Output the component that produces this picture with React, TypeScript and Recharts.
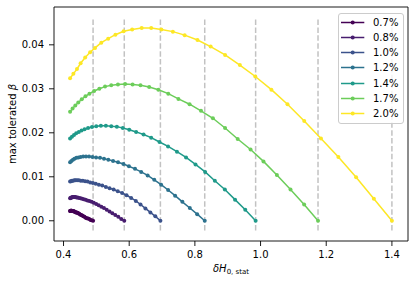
import React from 'react';
import { LineChart, Line, XAxis, YAxis, ReferenceArea, Legend } from 'recharts';

const seriesLabels = ['0.7%', '0.8%', '1.0%', '1.2%', '1.4%', '1.7%', '2.0%'];
const seriesColors = ['#440154', '#481d6f', '#3b528b', '#2c728e', '#1f9a8a', '#6ccd5a', '#fde725'];
const endpoints = [0.49, 0.585, 0.695, 0.83, 0.985, 1.175, 1.4];
const xTicks = [0.4, 0.6, 0.8, 1.0, 1.2, 1.4];
const yTicks = [0, 0.01, 0.02, 0.03, 0.04];

const xs07 = [0.42, 0.4207, 0.4215, 0.4223, 0.4233, 0.4243, 0.4255, 0.4268, 0.4283, 0.4299, 0.4316, 0.4335, 0.4355, 0.4376, 0.4399, 0.4423, 0.4449, 0.4477, 0.4506, 0.4537, 0.457, 0.4603, 0.4638, 0.4673, 0.471, 0.4746, 0.4784, 0.4822, 0.4861, 0.49];
const ys07 = [0.0022, 0.0022, 0.0023, 0.0023, 0.0023, 0.0023, 0.0023, 0.0022, 0.0022, 0.0022, 0.0021, 0.0021, 0.002, 0.0019, 0.0019, 0.0018, 0.0017, 0.0016, 0.0014, 0.0013, 0.0012, 0.001, 0.0009, 0.0007, 0.0006, 0.0005, 0.0004, 0.0002, 0.0001, 0.0];

const xs08 = [0.42, 0.4217, 0.4235, 0.4254, 0.4278, 0.4302, 0.4329, 0.436, 0.4395, 0.4433, 0.4474, 0.4518, 0.4566, 0.4616, 0.4669, 0.4726, 0.4787, 0.4853, 0.4921, 0.4995, 0.5071, 0.515, 0.5231, 0.5315, 0.5401, 0.5487, 0.5576, 0.5667, 0.5758, 0.585];
const ys08 = [0.0051, 0.0052, 0.0053, 0.0053, 0.0054, 0.0054, 0.0054, 0.0054, 0.0053, 0.0053, 0.0052, 0.0051, 0.005, 0.0049, 0.0048, 0.0046, 0.0045, 0.0043, 0.0041, 0.0038, 0.0035, 0.0032, 0.0029, 0.0025, 0.0021, 0.0017, 0.0013, 0.0009, 0.0004, 0.0];

const xs10 = [0.42, 0.4228, 0.4258, 0.4291, 0.4329, 0.4371, 0.4415, 0.4467, 0.4525, 0.4588, 0.4657, 0.4731, 0.4811, 0.4893, 0.4981, 0.5077, 0.5179, 0.5289, 0.5402, 0.5526, 0.5652, 0.5784, 0.5919, 0.6059, 0.6202, 0.6345, 0.6494, 0.6645, 0.6796, 0.695];
const ys10 = [0.0089, 0.009, 0.0091, 0.0091, 0.0092, 0.0092, 0.0092, 0.0092, 0.0091, 0.0091, 0.009, 0.0089, 0.0087, 0.0086, 0.0084, 0.0082, 0.008, 0.0077, 0.0074, 0.0071, 0.0067, 0.0063, 0.0058, 0.0052, 0.0045, 0.0037, 0.0028, 0.0019, 0.001, 0.0];

const xs12 = [0.42, 0.4241, 0.4286, 0.4335, 0.4393, 0.4454, 0.452, 0.4598, 0.4684, 0.4778, 0.4881, 0.4991, 0.511, 0.5233, 0.5364, 0.5508, 0.566, 0.5824, 0.5992, 0.6176, 0.6365, 0.6562, 0.6763, 0.6972, 0.7185, 0.7398, 0.7619, 0.7845, 0.807, 0.83];
const ys12 = [0.0133, 0.0136, 0.0139, 0.0141, 0.0143, 0.0144, 0.0145, 0.0146, 0.0146, 0.0146, 0.0145, 0.0144, 0.0143, 0.0141, 0.0139, 0.0136, 0.0133, 0.0129, 0.0124, 0.0118, 0.0111, 0.0103, 0.0093, 0.0082, 0.007, 0.0057, 0.0043, 0.0029, 0.0015, 0.0];

const xs14 = [0.42, 0.4257, 0.4319, 0.4386, 0.4466, 0.455, 0.4641, 0.4748, 0.4867, 0.4997, 0.5138, 0.529, 0.5454, 0.5624, 0.5805, 0.6002, 0.6211, 0.6437, 0.6669, 0.6923, 0.7183, 0.7454, 0.7731, 0.8019, 0.8313, 0.8607, 0.8912, 0.9223, 0.9534, 0.985];
const ys14 = [0.0187, 0.0191, 0.0195, 0.0199, 0.0202, 0.0205, 0.0208, 0.0211, 0.0213, 0.0215, 0.0216, 0.0216, 0.0215, 0.0214, 0.0211, 0.0207, 0.0202, 0.0196, 0.0189, 0.0179, 0.0169, 0.0157, 0.0144, 0.0128, 0.0111, 0.0091, 0.0071, 0.0048, 0.0025, 0.0];

const xs17 = [0.42, 0.4276, 0.4359, 0.4449, 0.4555, 0.4668, 0.4789, 0.4932, 0.5091, 0.5265, 0.5453, 0.5657, 0.5876, 0.6103, 0.6344, 0.6608, 0.6888, 0.719, 0.7499, 0.7839, 0.8186, 0.8549, 0.8919, 0.9304, 0.9696, 1.0089, 1.0497, 1.0912, 1.1327, 1.175];
const ys17 = [0.0248, 0.0255, 0.0262, 0.0269, 0.0276, 0.0283, 0.0289, 0.0295, 0.03, 0.0305, 0.0308, 0.031, 0.0311, 0.031, 0.0308, 0.0304, 0.0298, 0.0289, 0.0277, 0.0265, 0.025, 0.0233, 0.0211, 0.0186, 0.0162, 0.0135, 0.0104, 0.0071, 0.0037, 0.0];

const xs20 = [0.42, 0.43, 0.441, 0.452, 0.466, 0.481, 0.496, 0.515, 0.536, 0.558, 0.583, 0.609, 0.638, 0.667, 0.698, 0.733, 0.769, 0.808, 0.848, 0.892, 0.937, 0.984, 1.033, 1.082, 1.133, 1.184, 1.237, 1.291, 1.345, 1.4];
const ys20 = [0.0324, 0.0334, 0.0345, 0.0358, 0.0371, 0.0383, 0.0393, 0.0405, 0.0414, 0.0423, 0.0431, 0.0435, 0.0438, 0.0438, 0.0435, 0.043, 0.0422, 0.0411, 0.0396, 0.0377, 0.0354, 0.0328, 0.0298, 0.0265, 0.0227, 0.0187, 0.0145, 0.0099, 0.005, 0.0];

const vlineBottom = -0.0022;
const vlineTop = 0.0462;

const allX = [xs07, xs08, xs10, xs12, xs14, xs17, xs20];
const allY = [ys07, ys08, ys10, ys12, ys14, ys17, ys20];

const series = seriesLabels.map((name, i) => ({
  name,
  color: seriesColors[i],
  data: allX[i].map((x, j) => ({ x, y: allY[i][j] })),
}));

const vlines = endpoints.map((e) => [
  { x: e, y: vlineBottom },
  { x: e, y: vlineTop },
]);

const FONT = 'DejaVu Sans, sans-serif';
const X_DOMAIN: [number, number] = [0.371, 1.449];
const Y_DOMAIN: [number, number] = [-0.0046, 0.0486];

const renderLegend = () => (
  <div
    style={{
      position: 'relative',
      width: 66,
      height: 111,
      boxSizing: 'border-box',
      border: '1px solid #cccccc',
      borderRadius: 3,
      background: 'rgba(255,255,255,0.8)',
      fontFamily: FONT,
      fontSize: 10,
      color: '#000',
    }}
  >
    {seriesLabels.map((lab, i) => (
      <div
        key={lab}
        style={{
          position: 'absolute',
          left: 0,
          top: 0.5 + i * 15.33,
          height: 15,
          display: 'flex',
          alignItems: 'center',
          whiteSpace: 'nowrap',
        }}
      >
        <svg width={34} height={15} style={{ display: 'block' }}>
          <line x1={2} y1={7.5} x2={25.3} y2={7.5} stroke={seriesColors[i]} strokeWidth={1.5} />
          <circle cx={13.7} cy={7.5} r={2} fill={seriesColors[i]} />
        </svg>
        <span style={{ lineHeight: '15px' }}>{lab}</span>
      </div>
    ))}
  </div>
);

const XLabel = () => (
  <text x={231} y={271.5} textAnchor="middle" fontFamily={FONT} fontSize={10} fill="#000">
    <tspan fontStyle="italic">δH</tspan>
    <tspan fontSize={7} dy={2.3}>0, stat</tspan>
  </text>
);

const YLabel = () => (
  <text
    x={12}
    y={124}
    transform="rotate(-90 12 124)"
    textAnchor="middle"
    dominantBaseline="central"
    fontFamily={FONT}
    fontSize={10}
    fill="#000"
  >
    max tolerated <tspan fontStyle="italic">β</tspan>
  </text>
);

export default function App() {
  return (
    <div style={{ position: 'absolute', left: 0, top: 0, background: '#fff' }}>
      <LineChart width={416} height={283} margin={{ top: 7, right: 8, bottom: 12, left: 0 }}>
        <XAxis
          type="number"
          dataKey="x"
          domain={X_DOMAIN}
          ticks={xTicks}
          allowDataOverflow
          height={30}
          tickFormatter={(v: number) => v.toFixed(1)}
          tick={{ fill: '#000', fontSize: 10, fontFamily: FONT }}
          tickLine={{ stroke: '#000', strokeWidth: 0.9 }}
          tickSize={5}
          tickMargin={5}
          axisLine={false}
          label={{ content: () => <XLabel /> }}
        />
        <YAxis
          type="number"
          dataKey="y"
          domain={Y_DOMAIN}
          ticks={yTicks}
          allowDataOverflow
          width={54}
          tickFormatter={(v: number) => v.toFixed(2)}
          tick={{ fill: '#000', fontSize: 10, fontFamily: FONT }}
          tickLine={{ stroke: '#000', strokeWidth: 0.9 }}
          tickSize={5}
          tickMargin={5}
          axisLine={false}
          label={{ content: () => <YLabel /> }}
        />
        {vlines.map((d, i) => (
          <Line
            key={'v' + i}
            data={d}
            dataKey="y"
            stroke="#c2c2c2"
            strokeWidth={1.5}
            strokeDasharray="5.5 2.4"
            dot={false}
            activeDot={false}
            legendType="none"
            isAnimationActive={false}
          />
        ))}
        {series.map((s) => (
          <Line
            key={s.name}
            name={s.name}
            data={s.data}
            dataKey="y"
            stroke={s.color}
            strokeWidth={1.5}
            dot={{ r: 2, fill: s.color, stroke: s.color, strokeWidth: 0 }}
            activeDot={false}
            isAnimationActive={false}
          />
        ))}
        <ReferenceArea
          x1={X_DOMAIN[0]}
          x2={X_DOMAIN[1]}
          y1={Y_DOMAIN[0]}
          y2={Y_DOMAIN[1]}
          fill="none"
          fillOpacity={0}
          stroke="#000"
          strokeWidth={0.9}
        />
        <Legend
          layout="vertical"
          align="center"
          verticalAlign="middle"
          content={renderLegend}
          wrapperStyle={{ left: 338, top: 13, width: 66, height: 111 }}
        />
      </LineChart>
    </div>
  );
}
